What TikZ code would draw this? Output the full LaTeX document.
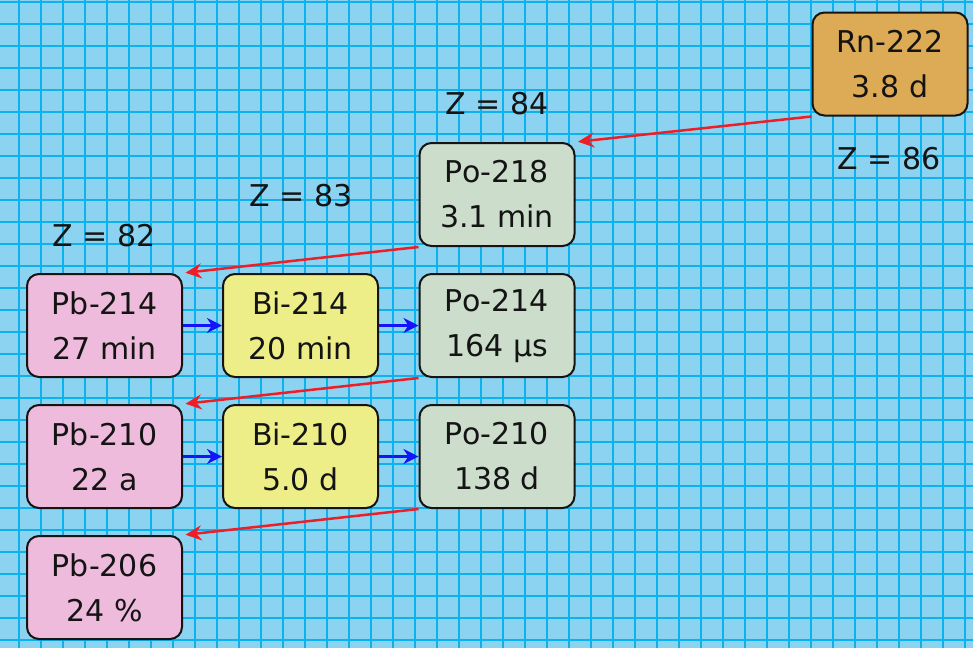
\documentclass[tikz,border=0pt]{standalone}
\usepackage{fontspec}
\setmainfont{DejaVu Sans}
\usetikzlibrary{arrows.meta}
\definecolor{paper}{RGB}{139,211,240}
\definecolor{gridblue}{RGB}{12,178,238}
\definecolor{leadpink}{RGB}{238,187,221}
\definecolor{bismuthyellow}{RGB}{238,238,136}
\definecolor{poloniumgray}{RGB}{204,221,204}
\definecolor{radonorange}{RGB}{221,170,85}
\definecolor{alphared}{RGB}{238,30,40}
\definecolor{betablue}{RGB}{20,20,250}
\definecolor{ink}{RGB}{20,20,20}
\tikzset{
  nuclide/.style={draw=ink, line width=2pt, rounded corners=12pt,
    minimum width=155pt, minimum height=103pt, inner sep=0pt,
    align=center, text=ink, font=\fontsize{30}{45}\selectfont},
  zlabel/.style={text=ink, inner sep=0pt, font=\fontsize{30}{36}\selectfont},
  alpha/.style={draw=alphared, line width=2.5pt, shorten >=2.5pt,
    -{Stealth[length=16pt,width=15pt]}},
  beta/.style={draw=betablue, line width=2.8pt,
    -{Stealth[length=15pt,width=15pt]}},
  gridline/.style={draw=gridblue, line width=2pt}
}
\begin{document}
\begin{tikzpicture}[x=1pt,y=-1pt]
  % background paper with square grid
  \fill[paper] (0,0) rectangle (973,648);
  \useasboundingbox (0,0) rectangle (973,648);
  \foreach \i in {0,...,43} \draw[gridline] (18.5+22*\i,0) -- (18.5+22*\i,648);
  \foreach \j in {0,...,29} \draw[gridline] (0,2+22*\j) -- (973,2+22*\j);

  % nuclides of the decay chain
  \node[nuclide, fill=radonorange]    (rn222) at (890,64)    {Rn-222\\3.8 d};
  \node[nuclide, fill=poloniumgray]   (po218) at (497,194.5) {Po-218\\3.1 min};
  \node[nuclide, fill=leadpink]       (pb214) at (104.5,325.5) {Pb-214\\27 min};
  \node[nuclide, fill=bismuthyellow]  (bi214) at (300.5,325.5) {Bi-214\\20 min};
  \node[nuclide, fill=poloniumgray]   (po214) at (497,325.5) {Po-214\\164 µs};
  \node[nuclide, fill=leadpink]       (pb210) at (104.5,456.5) {Pb-210\\22 a};
  \node[nuclide, fill=bismuthyellow]  (bi210) at (300.5,456.5) {Bi-210\\5.0 d};
  \node[nuclide, fill=poloniumgray]   (po210) at (497,456.5) {Po-210\\138 d};
  \node[nuclide, fill=leadpink]       (pb206) at (104.5,587.5) {Pb-206\\24 \%};

  % atomic number labels
  \node[zlabel] (z86) at (889,159) {Z = 86};
  \node[zlabel] (z84) at (497,104) {Z = 84};
  \node[zlabel] (z83) at (301,196) {Z = 83};
  \node[zlabel] (z82) at (104,236) {Z = 82};

  % alpha decays
  \draw[alpha] (rn222.south west) -- (po218.north east);
  \draw[alpha] (po218.south west) -- (pb214.north east);
  \draw[alpha] (po214.south west) -- (pb210.north east);
  \draw[alpha] (po210.south west) -- (pb206.north east);

  % beta decays
  \draw[beta] (pb214.east) -- (bi214.west);
  \draw[beta] (bi214.east) -- (po214.west);
  \draw[beta] (pb210.east) -- (bi210.west);
  \draw[beta] (bi210.east) -- (po210.west);
\end{tikzpicture}
\end{document}
